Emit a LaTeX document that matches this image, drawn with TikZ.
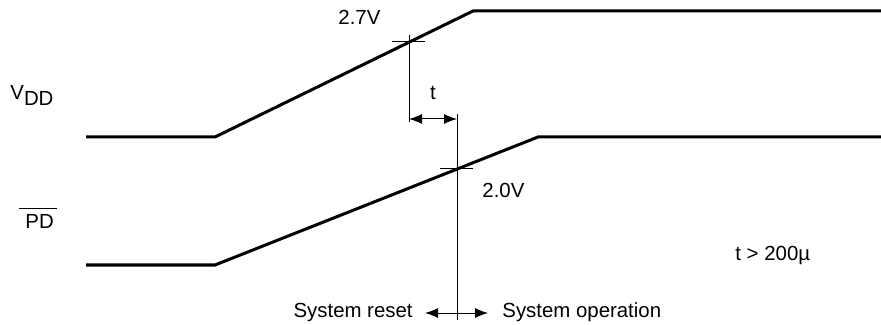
\documentclass[tikz,border=0pt]{standalone}
\usepackage{fontspec}
\setmainfont{Liberation Sans}
\usepackage{tikz}
\usetikzlibrary{arrows.meta}
\tikzstyle{none}=[inner sep=0pt]
\tikzstyle{label}=[inner sep=0pt,font=\fontsize{10.2}{12}\selectfont]
\tikzstyle{signal}=[-,line width=1.5pt]
\tikzstyle{marker}=[-,line width=0.5pt]
\tikzstyle{dimarrow}=[{Latex[length=6.5pt,width=5pt]}-{Latex[length=6.5pt,width=5pt]},line width=0.5pt]
\pgfdeclarelayer{edgelayer}
\pgfdeclarelayer{nodelayer}
\pgfsetlayers{edgelayer,nodelayer,main}
\begin{document}
\begin{tikzpicture}[x=0.5pt,y=-0.5pt]
	\useasboundingbox (0,0) rectangle (881,325);
	\begin{pgfonlayer}{nodelayer}
		% V_DD waveform
		\node [style=none] (v0) at (86, 137) {};
		\node [style=none] (v1) at (215, 137) {};
		\node [style=none] (v2) at (473, 11) {};
		\node [style=none] (v3) at (881, 11) {};
		% PD waveform
		\node [style=none] (p0) at (86, 265) {};
		\node [style=none] (p1) at (215, 265) {};
		\node [style=none] (p2) at (538, 137) {};
		\node [style=none] (p3) at (881, 137) {};

		% 2.7V crossing
		\node [style=none] (ta) at (392, 42) {};
		\node [style=none] (tb) at (425, 42) {};
		\node [style=none] (ma) at (409, 35) {};
		\node [style=none] (mb) at (409, 122) {};
		% 2.0V crossing
		\node [style=none] (tc) at (440, 169) {};
		\node [style=none] (td) at (473, 169) {};
		\node [style=none] (mc) at (457, 114) {};
		\node [style=none] (md) at (457, 320) {};

		\node [style=none] (da) at (409, 119) {};
		\node [style=none] (db) at (457, 119) {};
		\node [style=none] (ra) at (425, 313) {};
		\node [style=none] (rb) at (488, 313) {};

		\node [style=label, anchor=base west] (vdd) at (10, 100) {V\raisebox{-3pt}{DD}};
		\node [style=label, anchor=base west] (pd) at (25, 228) {PD};
		\node [style=label, anchor=base west] (hi) at (338, 25) {2.7V};
		\node [style=label, anchor=base west] (lo) at (482, 198) {2.0V};
		\node [style=label, anchor=base] (t) at (433, 100) {t};
		\node [style=label, anchor=base east] (reset) at (413, 317) {System reset};
		\node [style=label, anchor=base west] (oper) at (502, 317) {System operation};
		\node [style=label, anchor=base west] (cond) at (735, 261) {t > 200µ};
	\end{pgfonlayer}
	\begin{pgfonlayer}{edgelayer}
		\draw [style=signal] (v0.center) to (v1.center) to (v2.center) to (v3.center);
		\draw [style=signal] (p0.center) to (p1.center) to (p2.center) to (p3.center);
		\draw [style=marker] (ta.center) to (tb.center);
		\draw [style=marker] (ma.center) to (mb.center);
		\draw [style=marker] (tc.center) to (td.center);
		\draw [style=marker] (mc.center) to (md.center);
		\draw [style=dimarrow] (da.center) to (db.center);
		\draw [style=dimarrow] (ra.center) to (rb.center);
		\draw [style=marker] ([xshift=-3pt,yshift=2.5pt]pd.north west) to ([xshift=1.5pt,yshift=2.5pt]pd.north east);
	\end{pgfonlayer}
\end{tikzpicture}
\end{document}
